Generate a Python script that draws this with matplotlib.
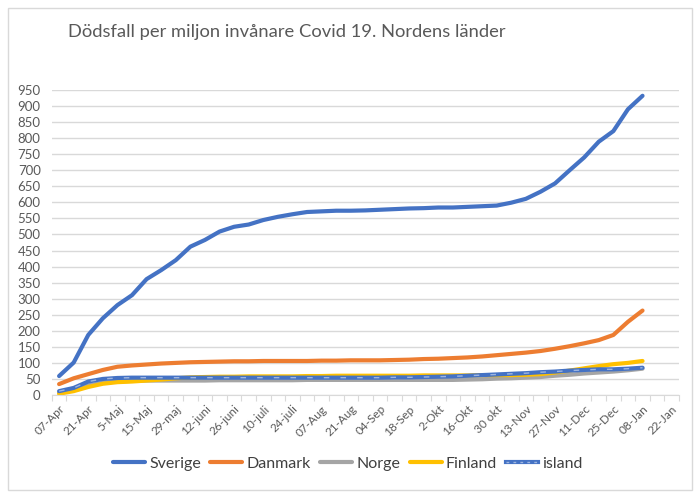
import matplotlib.pyplot as plt
from matplotlib.patches import Rectangle

plt.rcParams['font.family'] = ['Lato', 'DejaVu Sans']

labels = ['07-Apr', '21-Apr', '5-Maj', '15-Maj', '29-maj', '12-juni', '26-juni', '10-juli',
          '24-juli', '07-Aug', '21-Aug', '04-Sep', '18-Sep', '2-Okt', '16-Okt', '30 okt',
          '13-Nov', '27-Nov', '11-Dec', '25-Dec', '08-Jan', '22-Jan']
n_cat = 43

sverige = [59, 101, 187, 239, 280, 311, 361, 389, 420, 462, 483, 509, 524, 531, 545, 555, 563,
           570, 572, 574, 574, 575, 577, 579, 581, 582, 584, 584, 586, 588, 590, 599, 611, 633,
           659, 700, 740, 789, 822, 890, 932]
danmark = [34, 52, 65, 78, 88, 92, 95, 98, 100, 102, 103, 104, 105, 105, 106, 106, 106, 106, 107,
           107, 108, 108, 108, 109, 110, 112, 113, 115, 117, 120, 124, 128, 132, 137, 144, 152,
           161, 171, 187, 228, 263]
norge = [7, 15, 30, 38, 42, 44, 45, 45, 45, 45, 45, 46, 46, 46, 46, 46, 46, 47, 47, 47, 47, 47,
         47, 47, 47, 47, 47, 47, 48, 49, 51, 52, 54, 56, 60, 63, 67, 70, 73, 77, 82]
finland = [4, 12, 25, 35, 40, 42, 45, 48, 52, 55, 56, 57, 57, 58, 58, 58, 58, 59, 59, 60, 60,
           60, 60, 60, 60, 61, 61, 61, 61, 62, 62, 62, 63, 65, 70, 76, 83, 90, 96, 100, 106]
island = [12, 22, 42, 50, 53, 54, 54, 54, 54, 54, 54, 54, 54, 54, 54, 54, 54, 54, 54, 54, 54,
          54, 54, 55, 55, 56, 57, 58, 60, 62, 64, 66, 68, 71, 73, 76, 78, 80, 80, 82, 85]

fig = plt.figure(figsize=(7, 5), dpi=100)
fig.patches.append(Rectangle((0.012, 0.02), 0.976, 0.965, transform=fig.transFigure,
                             fill=False, edgecolor='#D9D9D9', linewidth=1))
ax = fig.add_axes([0.074, 0.21, 0.896, 0.61])

x = list(range(len(sverige)))
ax.plot(x, sverige, color='#4472C4', lw=3, label='Sverige', solid_capstyle='round')
ax.plot(x, danmark, color='#ED7D31', lw=3, label='Danmark', solid_capstyle='round')
ax.plot(x, norge, color='#A5A5A5', lw=3, label='Norge', solid_capstyle='round')
ax.plot(x, finland, color='#FFC000', lw=3, label='Finland', solid_capstyle='round')
ax.plot(x, island, color='#4472C4', lw=3, solid_capstyle='round')
ax.plot(x, island, color='#9DB5E0', lw=1, dashes=(4, 8))
ih1, = ax.plot([], [], color='#4472C4', lw=3)
ih2, = ax.plot([], [], color='#9DB5E0', lw=1, dashes=(2, 3))

ax.set_ylim(0, 950)
ax.set_yticks(range(0, 951, 50))
ax.set_xlim(-0.5, n_cat - 0.5)
ax.set_xticks([i - 0.5 for i in range(n_cat + 1)], minor=False)
ax.set_xticklabels([])
ax.set_xticks(range(0, n_cat, 2), minor=True)
ax.set_xticklabels(labels, minor=True, rotation=45, ha='right', va='top',
                   rotation_mode='anchor', fontsize=8.5, color='#595959')
ax.tick_params(axis='x', which='major', length=4, color='#D9D9D9')
ax.tick_params(axis='x', which='minor', length=0, pad=6)
ax.tick_params(axis='y', length=0, labelsize=9.5, labelcolor='#595959', pad=8)
ax.grid(axis='y', color='#D9D9D9', lw=1)
ax.set_axisbelow(True)
for s in ['top', 'right', 'left']:
    ax.spines[s].set_visible(False)
ax.spines['bottom'].set_color('#D9D9D9')

fig.text(0.097, 0.935, 'Dödsfall per miljon invånare Covid 19. Nordens länder',
         fontsize=13.2, color='#595959', va='center')

handles, names = ax.get_legend_handles_labels()
handles.append((ih1, ih2))
names.append('island')
fig.legend(handles, names, loc='center', bbox_to_anchor=(0.497, 0.073), ncol=5,
           frameon=False, fontsize=11.5, handlelength=2.0, columnspacing=0.6,
           handletextpad=0.25, labelcolor='#404040')

fig.savefig('out.png', dpi=100)
